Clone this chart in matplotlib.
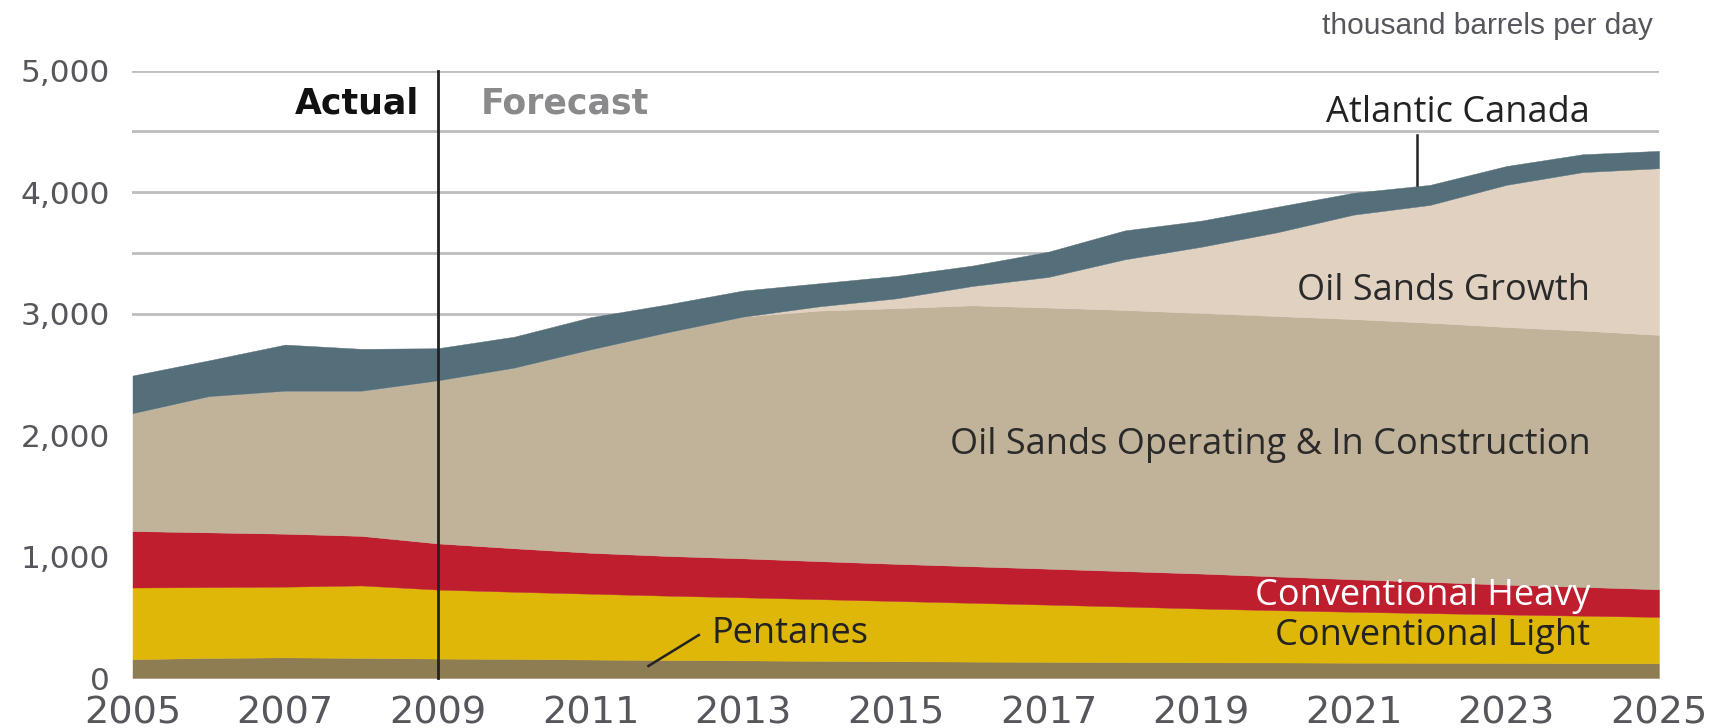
import matplotlib
matplotlib.use("Agg")
import matplotlib.pyplot as plt
import numpy as np

years = list(range(2005, 2026))
pentanes = [155, 165, 170, 165, 160, 157, 152, 148, 145, 141, 138, 135, 133, 131, 129, 128, 126, 125, 124, 122, 121]
conv_light = [590, 583, 582, 597, 568, 553, 542, 530, 519, 508, 496, 484, 471, 457, 443, 430, 419, 409, 399, 391, 382]
conv_heavy = [465, 451, 436, 408, 380, 358, 337, 327, 321, 313, 306, 301, 296, 292, 288, 278, 268, 257, 246, 237, 228]
oil_sands_operating = [970, 1121, 1177, 1195, 1342, 1487, 1674, 1840, 1990, 2063, 2105, 2148, 2150, 2150, 2145, 2144, 2142, 2134, 2121, 2110, 2094]
oil_sands_growth = [0, 0, 0, 0, 0, 0, 0, 0, 0, 35, 80, 159, 252, 417, 545, 690, 860, 970, 1170, 1305, 1372]
atlantic_canada = [310, 295, 380, 345, 265, 255, 265, 230, 215, 190, 185, 168, 208, 238, 215, 210, 180, 165, 155, 147, 143]

series_labels = ["Pentanes", "Conventional Light", "Conventional Heavy",
                 "Oil Sands Operating & In Construction", "Oil Sands Growth", "Atlantic Canada"]
colors = ["#8E7D52", "#DFB708", "#BE1E2D", "#C1B29A", "#E1D1C1", "#546E7A"]
xtick_years = list(range(2005, 2026, 2))
ytick_vals = [0, 1000, 2000, 3000, 4000, 5000]
grid_vals = [3000, 3500, 4000, 4500, 5000]

fig = plt.figure(figsize=(17.31, 7.28), dpi=100)
ax = fig.add_axes([132.5 / 1731, 1 - 678 / 728, (1659 - 132.5) / 1731, (678 - 70.7) / 728])

for g in grid_vals:
    ax.axhline(g, color="#BDBDC1", lw=2.0, zorder=0)

ax.stackplot(years, pentanes, conv_light, conv_heavy, oil_sands_operating,
             oil_sands_growth, atlantic_canada, colors=colors,
             labels=series_labels, zorder=2, edgecolor="face", linewidth=0.3)

ax.set_xlim(2005, 2025)
ax.set_ylim(0, 5000)
for s in ax.spines.values():
    s.set_visible(False)

tick_font = "DejaVu Sans"
tick_color = "#55575C"
ax.set_xticks(xtick_years)
ax.set_xticklabels([str(y) for y in xtick_years], fontsize=27.5, color=tick_color, family=tick_font)
ax.set_yticks(ytick_vals)
ax.set_yticklabels([f"{v:,}" for v in ytick_vals], fontsize=22.5, color=tick_color, family=tick_font)
ax.tick_params(axis="both", length=0)
ax.tick_params(axis="x", pad=12.5)
ax.tick_params(axis="y", pad=16)

# actual / forecast divider
ax.plot([2009, 2009], [0, 5000], color="#222222", lw=2.0, zorder=5, clip_on=False)

ax.text(2008.75, 4734, "Actual", ha="right", va="center", fontsize=25, fontweight="bold",
        color="#111111", family="DejaVu Sans")
ax.text(2009.56, 4734, "Forecast", ha="left", va="center", fontsize=25, fontweight="bold",
        color="#8A8A8C", family="DejaVu Sans")

fig.text(1653 / 1731, 1 - 26 / 728, "thousand barrels per day", ha="right", va="center",
         fontsize=21.5, color=tick_color, family="Liberation Sans")

lab_font = "Open Sans"
fs = 26
xr = 2024.1
ax.text(xr, 4580, "Atlantic Canada", ha="right", va="baseline", fontsize=fs, color="#222222", family=lab_font)
ax.plot([2021.83, 2021.83], [4472, 4063], color="#222222", lw=1.8, zorder=5)
ax.text(xr, 3110, "Oil Sands Growth", ha="right", va="baseline", fontsize=fs, color="#2A2A2A", family=lab_font)
ax.text(xr, 1844, "Oil Sands Operating & In Construction", ha="right", va="baseline", fontsize=fs,
        color="#2A2A2A", family=lab_font)
ax.text(xr, 600, "Conventional Heavy", ha="right", va="baseline", fontsize=fs, color="white", family=lab_font)
ax.text(xr, 272, "Conventional Light", ha="right", va="baseline", fontsize=fs, color="#222222", family=lab_font)
ax.text(2012.59, 291, "Pentanes", ha="left", va="baseline", fontsize=fs, color="#222222", family=lab_font)
ax.plot([2012.42, 2011.76], [354, 99], color="#222222", lw=1.8, zorder=5)

fig.savefig("out.png", dpi=100, facecolor="white")
